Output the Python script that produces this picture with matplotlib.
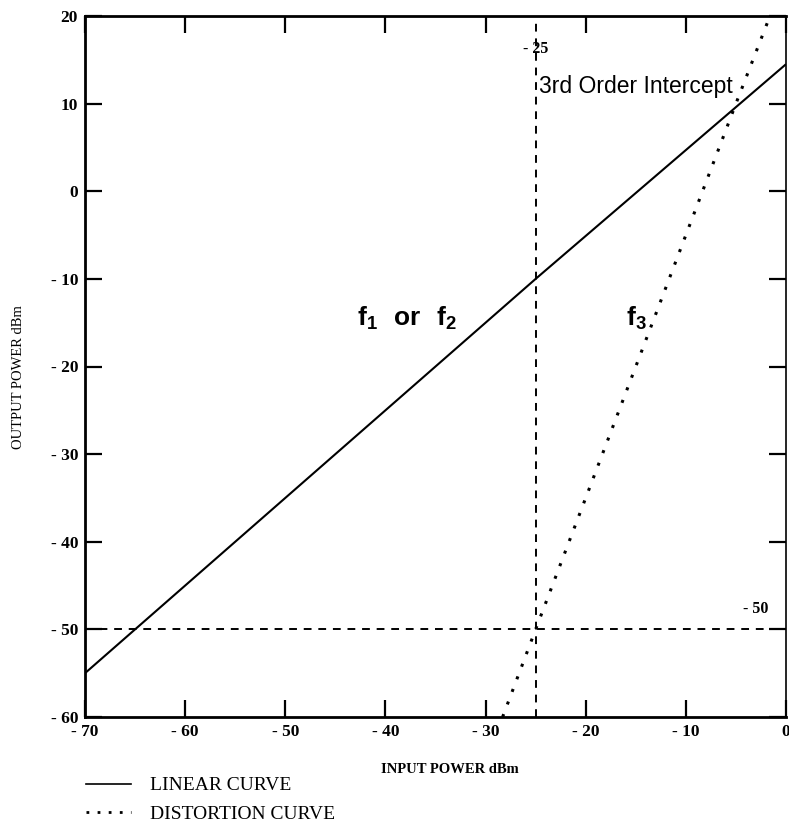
import matplotlib
matplotlib.use("Agg")
import matplotlib.pyplot as plt
from matplotlib.lines import Line2D

# ---- data ----
linear_x = [-70, -25, 0]
linear_y = [-55, -10, 14.5]
distortion_x = [-28.3, -25, -5, -1.6]
distortion_y = [-60, -50, 10, 20]
intercept_in = -25      # vertical dashed marker
intercept_out = -50     # horizontal dashed marker
x_ticks = [-70, -60, -50, -40, -30, -20, -10, 0]
y_ticks = [-60, -50, -40, -30, -20, -10, 0, 10, 20]

plt.rcParams['axes.unicode_minus'] = False
plt.rcParams['mathtext.fontset'] = 'custom'
plt.rcParams['mathtext.bf'] = 'Liberation Sans:bold'
plt.rcParams['mathtext.rm'] = 'Liberation Sans'

fig = plt.figure(figsize=(7.89, 8.25), dpi=100)
ax = fig.add_axes([85/789, 1 - 717/825, (786 - 85)/789, (717 - 16)/825])

ax.plot(linear_x, linear_y, color='black', lw=1.5, solid_capstyle='butt')
ax.plot(distortion_x, distortion_y, color='black', lw=2.2, linestyle=(0, (1, 3.4)))
ax.axvline(intercept_in, color='black', lw=1.4, linestyle=(0, (4, 3.5)))
ax.axhline(intercept_out, color='black', lw=1.4, linestyle=(0, (4, 3.5)))

ax.set_xlim(-70, 0)
ax.set_ylim(-60, 20)
ax.set_xticks(x_ticks)
ax.set_yticks(y_ticks)
ax.set_xticklabels(['- %d' % abs(v) if v < 0 else str(v) for v in x_ticks])
ax.set_yticklabels(['- %d' % abs(v) if v < 0 else str(v) for v in y_ticks])
ax.tick_params(direction='in', length=12, width=1.6, top=True, right=True,
               labelsize=12.5, pad=5)
for lab in ax.get_xticklabels() + ax.get_yticklabels():
    lab.set_fontfamily('Liberation Serif')
    lab.set_fontweight('bold')
for s in ['left', 'bottom', 'top']:
    ax.spines[s].set_linewidth(2.0)
ax.spines['right'].set_linewidth(1.2)

ax.set_xlabel('INPUT POWER dBm', fontfamily='Liberation Serif', fontsize=10.5,
              fontweight='bold')
ax.xaxis.set_label_coords(0.52, -0.066)
ax.set_ylabel('OUTPUT POWER dBm', fontfamily='Liberation Serif', fontsize=10.5)
ax.yaxis.set_label_coords(-0.086, 0.485)

ax.text(-25, 16.2, '- 25', ha='center', va='center', fontfamily='Liberation Serif',
        fontsize=11.5, fontweight='bold')
ax.text(-3, -47.7, '- 50', ha='center', va='center', fontfamily='Liberation Serif',
        fontsize=11.5, fontweight='bold')
ax.text(-24.7, 11.9, '3rd Order Intercept', ha='left', va='center',
        fontfamily='Liberation Sans', fontsize=16.5)
ax.text(-42.8, -14.5, r'$\mathbf{f_1}$  $\mathbf{or}$  $\mathbf{f_2}$', ha='left',
        va='center', fontsize=19)
ax.text(-16.0, -14.5, r'$\mathbf{f_3}$', ha='left', va='center', fontsize=19)

handles = [Line2D([], [], color='black', lw=1.2),
           Line2D([], [], color='black', lw=2.0, linestyle=(0, (1, 3)))]
fig.legend(handles, ['LINEAR CURVE', 'DISTORTION CURVE'], loc='upper left',
           bbox_to_anchor=(82/789, 1 - 773/825), frameon=False, handlelength=2.3,
           handletextpad=1.0, labelspacing=0.55, borderaxespad=0, borderpad=0.2,
           prop={'family': 'Liberation Serif', 'size': 14})

fig.savefig('out.png', dpi=100)
